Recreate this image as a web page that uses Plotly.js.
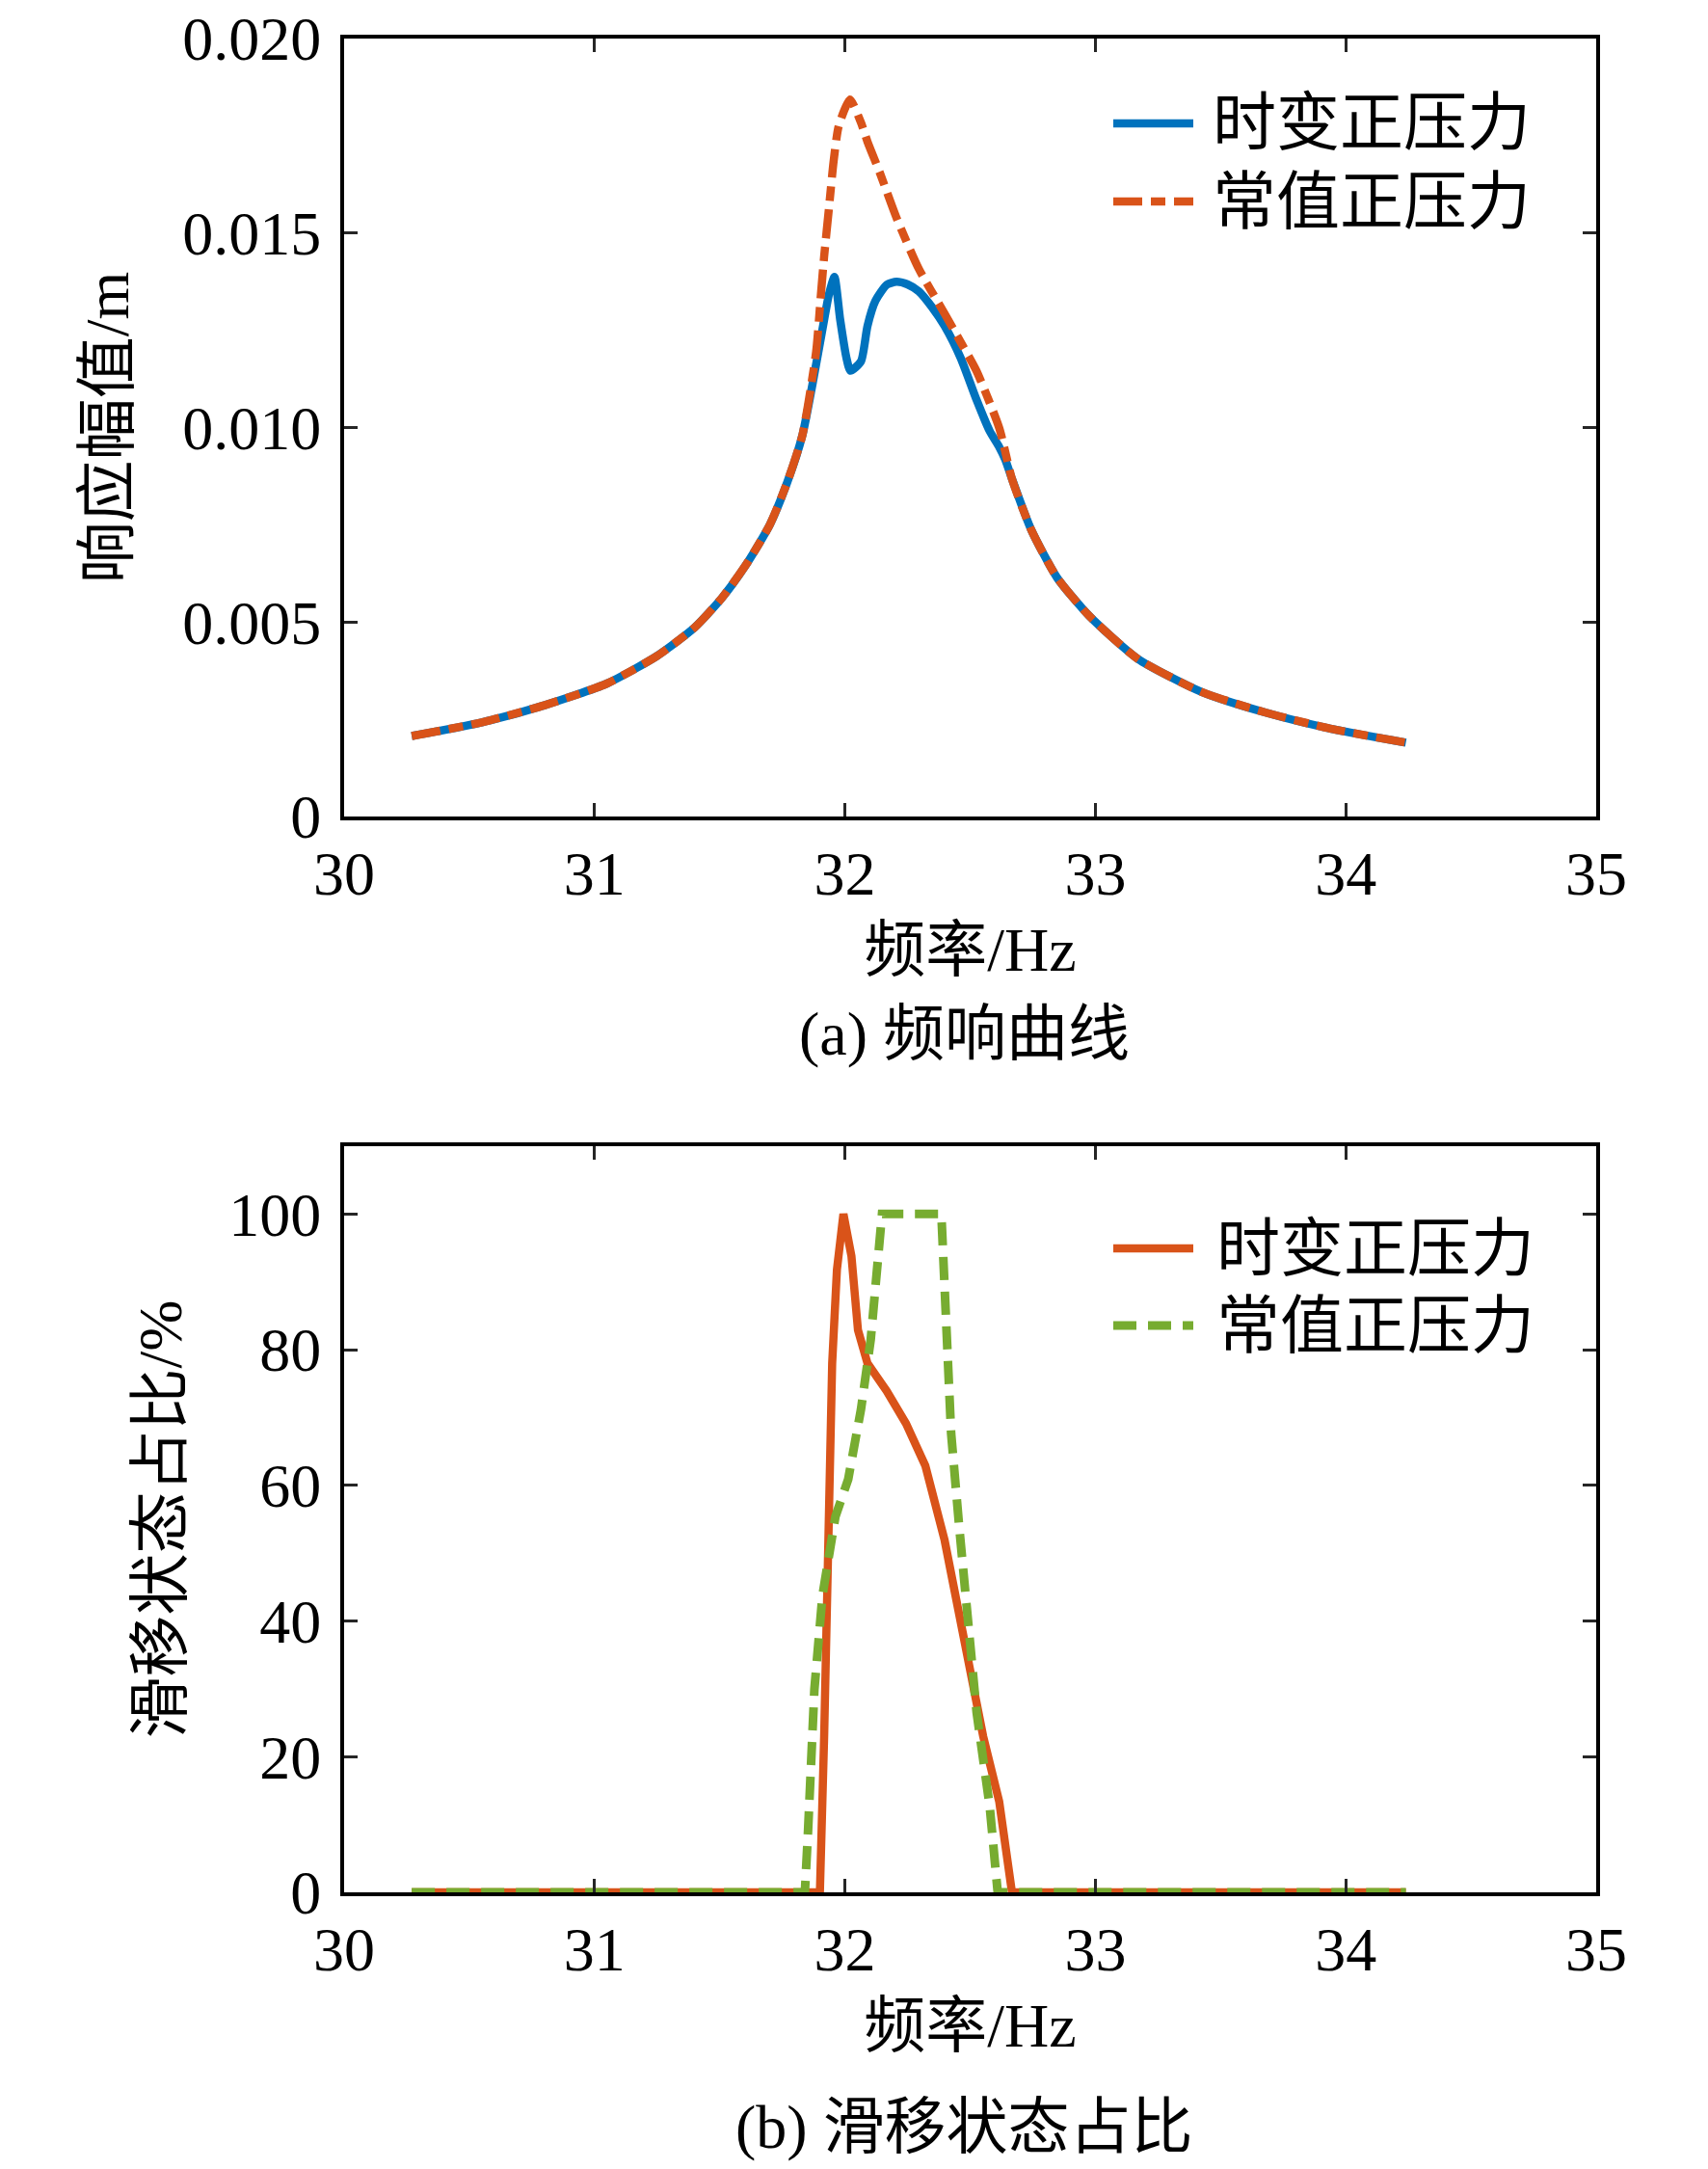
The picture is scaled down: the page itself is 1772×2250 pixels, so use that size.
<!DOCTYPE html>
<html>
<head>
<meta charset="utf-8">
<script src="https://cdn.plot.ly/plotly-3.0.1.min.js"></script>
<style>
  html, body { margin: 0; padding: 0; background: #fff; }
  #chart { width: 1772px; height: 2250px; }
</style>
</head>
<body>
<div id="chart"></div>
<script>
// (a) 频响曲线 -- 时变正压力
const freqTv = [30.27, 30.55, 30.80, 31.05, 31.25, 31.40, 31.51, 31.61, 31.70, 31.77, 31.83, 31.87, 31.917, 31.936, 31.958,
  31.981, 32.006, 32.022, 32.064, 32.09, 32.122, 32.167, 32.206, 32.25, 32.295, 32.347, 32.398, 32.462, 32.525, 32.578,
  32.616, 32.64, 32.667, 32.744, 32.847, 32.975, 33.168, 33.425, 33.681, 33.938, 34.24];
const ampTv = [0.00207, 0.00242, 0.00286, 0.00342, 0.00413, 0.00486, 0.00563, 0.00652, 0.00750, 0.00860, 0.00980, 0.01110, 0.01277, 0.01342, 0.01387,
  0.01277, 0.01179, 0.01146, 0.01170, 0.01261, 0.01326, 0.01367, 0.01375, 0.01368, 0.01350, 0.01310, 0.01261, 0.01179, 0.01072, 0.00991,
  0.00950, 0.00918, 0.00868, 0.00737, 0.00614, 0.00516, 0.00406, 0.00320, 0.00267, 0.00226, 0.00190];

// (a) 频响曲线 -- 常值正压力
const freqCv = [30.27, 30.55, 30.80, 31.05, 31.25, 31.40, 31.51, 31.61, 31.70, 31.77, 31.83, 31.885, 31.904, 31.917, 31.936, 31.955,
  31.975, 32.02, 32.064, 32.09, 32.14, 32.206, 32.295, 32.398, 32.46, 32.525, 32.616, 32.667, 32.744, 32.847, 32.975,
  33.168, 33.425, 33.681, 33.938, 34.24];
const ampCv = [0.00207, 0.00242, 0.00286, 0.00342, 0.00413, 0.00486, 0.00563, 0.00652, 0.00750, 0.00860, 0.00980, 0.01195, 0.01342, 0.01440, 0.01563, 0.01686,
  0.01775, 0.01843, 0.01784, 0.01735, 0.01654, 0.01539, 0.01408, 0.01293, 0.01222, 0.01146, 0.00999, 0.00868, 0.00737, 0.00614, 0.00516,
  0.00406, 0.00320, 0.00267, 0.00226, 0.00190];

// (b) 滑移状态占比 -- 时变正压力
const freqSlipTv = [30.27, 31.90, 31.917, 31.936, 31.949, 31.968, 31.994, 32.026, 32.052, 32.09, 32.167, 32.244, 32.321, 32.398,
  32.449, 32.50, 32.552, 32.616, 32.655, 32.667, 34.24];
const slipTv = [0, 0, 23.0, 50.5, 78.0, 91.8, 100, 93.8, 82.9, 78.0, 73.9, 69.1, 62.9, 51.9,
  42.3, 31.3, 23.0, 13.4, 3.1, 0, 0];

// (b) 滑移状态占比 -- 常值正压力
const freqSlipCv = [30.27, 31.84, 31.853, 31.878, 31.91, 31.962, 32.013, 32.064, 32.103, 32.129, 32.148, 32.385, 32.398, 32.424,
  32.456, 32.488, 32.526, 32.578, 32.61, 34.24];
const slipCv = [0, 0, 9.3, 29.9, 43.7, 55.4, 60.9, 71.2, 81.5, 91.8, 100, 100, 88.4, 67.7,
  54.0, 40.2, 26.5, 12.7, 0, 0];

const seriesNames = ['时变正压力', '常值正压力'];
const xTicks = [30, 31, 32, 33, 34, 35];
const ampTicks = [0, 0.005, 0.010, 0.015, 0.020];
const ampTickText = ['0', '0.005', '0.010', '0.015', '0.020'];
const slipTicks = [0, 20, 40, 60, 80, 100];

const BLUE = '#0072BD', ORANGE = '#D95319', GREEN = '#77AC30';
const FONT = "'Liberation Serif', 'Times New Roman', 'Noto Sans CJK SC', serif";
const W = 1772, H = 2250;
const DASHDOT = '30px,9px,15px,9px';
const DASH = '24px,12px';

const traces = [
  { x: freqTv, y: ampTv, mode: 'lines', name: seriesNames[0], xaxis: 'x', yaxis: 'y',
    line: { color: BLUE, width: 8.5, shape: 'spline', smoothing: 0.6 } },
  { x: freqCv, y: ampCv, mode: 'lines', name: seriesNames[1], xaxis: 'x', yaxis: 'y',
    line: { color: ORANGE, width: 8.5, dash: DASHDOT, shape: 'spline', smoothing: 0.6 } },
  { x: freqSlipTv, y: slipTv, mode: 'lines', name: seriesNames[0], xaxis: 'x2', yaxis: 'y2',
    line: { color: ORANGE, width: 8.5 } },
  { x: freqSlipCv, y: slipCv, mode: 'lines', name: seriesNames[1], xaxis: 'x2', yaxis: 'y2',
    line: { color: GREEN, width: 9, dash: DASH } }
];

function px(x) { return x / W; }
function py(y) { return 1 - y / H; }

const axisCommon = {
  showline: true, linecolor: '#000', linewidth: 4, mirror: 'ticks',
  ticks: 'inside', ticklen: 14, tickwidth: 3, tickcolor: '#262626',
  showgrid: false, zeroline: false, automargin: false, ticklabeloverflow: 'allow',
  tickfont: { family: FONT, size: 64, color: '#000' }
};
const titleFont = { family: FONT, size: 64, color: '#000' };
const legendFont = { family: FONT, size: 66, color: '#000' };

const xDom = [px(357), px(1656)];

const layout = {
  width: W, height: H,
  margin: { l: 0, r: 0, t: 0, b: 0 },
  paper_bgcolor: '#fff', plot_bgcolor: '#fff',
  showlegend: false,
  xaxis: Object.assign({}, axisCommon, {
    domain: xDom, anchor: 'y', range: [30, 35], tickvals: xTicks, ticklabelstandoff: 0,
    title: { text: '频率/Hz', font: titleFont, standoff: 22 }
  }),
  yaxis: Object.assign({}, axisCommon, {
    domain: [py(847), py(40)], anchor: 'x', range: [0, 0.0200001],
    tickvals: ampTicks, ticktext: ampTickText, ticklabelstandoff: 7,
    title: { text: '响应幅值/m', font: titleFont, standoff: 36 }
  }),
  xaxis2: Object.assign({}, axisCommon, {
    domain: xDom, anchor: 'y2', range: [30, 35], tickvals: xTicks, ticklabelstandoff: 0,
    title: { text: '频率/Hz', font: titleFont, standoff: 22 }
  }),
  yaxis2: Object.assign({}, axisCommon, {
    domain: [py(1963), py(1189)], anchor: 'x2', range: [0, 110],
    tickvals: slipTicks, ticklabelstandoff: 7,
    title: { text: '滑移状态占比/%', font: titleFont, standoff: 29 }
  }),
  shapes: [
    // legend samples, panel (a)
    { type: 'line', xref: 'paper', yref: 'paper', x0: px(1155), x1: px(1238), y0: py(128), y1: py(128),
      line: { color: BLUE, width: 8.5 } },
    { type: 'line', xref: 'paper', yref: 'paper', x0: px(1155), x1: px(1238), y0: py(209), y1: py(209),
      line: { color: ORANGE, width: 8.5, dash: DASHDOT } },
    // legend samples, panel (b)
    { type: 'line', xref: 'paper', yref: 'paper', x0: px(1155), x1: px(1238), y0: py(1295), y1: py(1295),
      line: { color: ORANGE, width: 8.5 } },
    { type: 'line', xref: 'paper', yref: 'paper', x0: px(1155), x1: px(1238), y0: py(1375), y1: py(1375),
      line: { color: GREEN, width: 9, dash: DASH } }
  ],
  annotations: [
    { text: seriesNames[0], xref: 'paper', yref: 'paper', x: px(1256), y: py(128), xanchor: 'left', yanchor: 'middle',
      showarrow: false, font: legendFont },
    { text: seriesNames[1], xref: 'paper', yref: 'paper', x: px(1256), y: py(209), xanchor: 'left', yanchor: 'middle',
      showarrow: false, font: legendFont },
    { text: seriesNames[0], xref: 'paper', yref: 'paper', x: px(1260), y: py(1295), xanchor: 'left', yanchor: 'middle',
      showarrow: false, font: legendFont },
    { text: seriesNames[1], xref: 'paper', yref: 'paper', x: px(1260), y: py(1375), xanchor: 'left', yanchor: 'middle',
      showarrow: false, font: legendFont },
    { text: '(a) 频响曲线', xref: 'paper', yref: 'paper', x: px(1000), y: py(1072), xanchor: 'center', yanchor: 'middle',
      showarrow: false, font: titleFont },
    { text: '(b) 滑移状态占比', xref: 'paper', yref: 'paper', x: px(1000), y: py(2206), xanchor: 'center', yanchor: 'middle',
      showarrow: false, font: titleFont }
  ]
};

Plotly.newPlot('chart', traces, layout, { staticPlot: true });
</script>
</body>
</html>
